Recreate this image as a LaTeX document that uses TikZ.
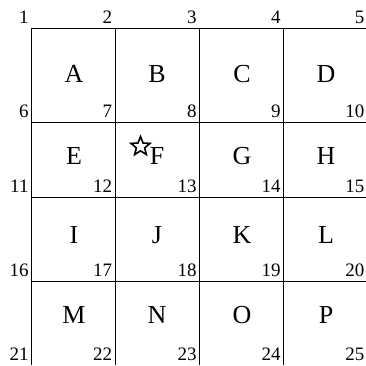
\documentclass[tikz,border=0pt]{standalone}
\usepackage{fontspec}
\setmainfont{Liberation Serif}
\usetikzlibrary{shapes.geometric}
\tikzset{
  celllabel/.style={font=\fontsize{26}{30}\selectfont,inner sep=0pt},
  cornernum/.style={font=\fontsize{19}{22}\selectfont,inner sep=0pt,anchor=south east},
  gridline/.style={black,line width=0.9pt},
  starbox/.style={fill=white,inner sep=0pt,minimum width=21pt,minimum height=23pt},
  starmark/.style={star,star points=5,star point ratio=2.3,draw=black,line width=1.6pt,
    line join=miter,inner sep=0pt,minimum size=20pt}
}

\begin{document}
\begin{tikzpicture}[x=1pt,y=-1pt]
  \useasboundingbox (0,0) rectangle (366,365);

  % grid lines
  \foreach \y in {28,122,197,281}{\draw[gridline] (31.7,\y)--(366,\y);}
  \foreach \x in {31.7,115.3,199.7,283.7}{\draw[gridline] (\x,28)--(\x,365);}

  % numbers at the corners
  \foreach \gy [count=\r from 0] in {28,122,197,281,365}{
    \foreach \gx [count=\c from 1] in {31.7,115.3,199.7,283.7,367.5}{
      \pgfmathtruncatemacro\k{5*\r+\c}
      \node[cornernum] (n\k) at (\gx-3,\gy-4) {\k};
    }
  }

  % cell letters
  \foreach \l [count=\i from 0] in {A,B,...,P}{
    \pgfmathsetmacro\lx{{74,157,242,326}[mod(\i,4)]}
    \pgfmathsetmacro\ly{{74,156,235,315}[div(\i,4)]}
    \node[celllabel] (cell\l) at (\lx,\ly) {\l};
  }

  \node[starbox] (box) at (139.5,146) {};
  \node[starmark] (star) at (140.5,146.5) {};
\end{tikzpicture}
\end{document}
